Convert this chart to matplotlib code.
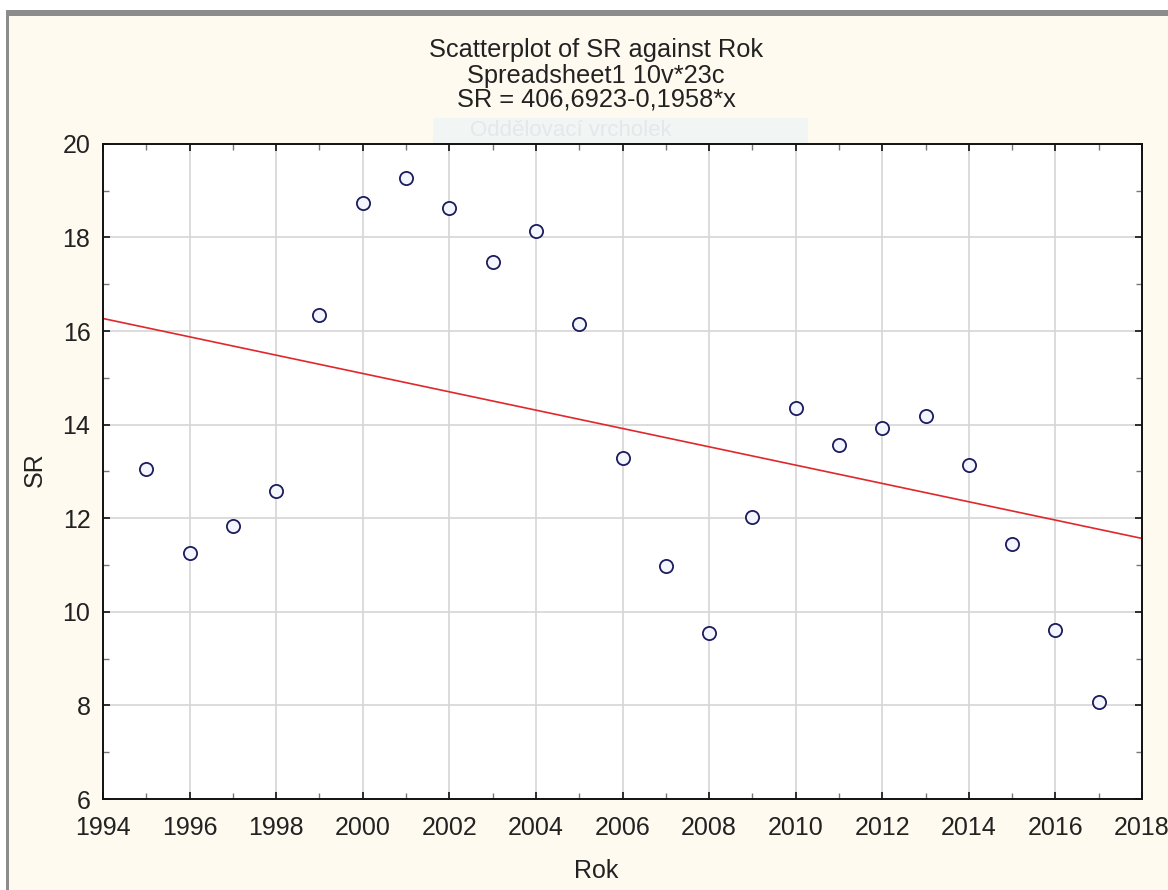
import numpy as np
import matplotlib.pyplot as plt
from matplotlib.patches import Rectangle
from matplotlib.ticker import MultipleLocator

plt.rcParams['font.family'] = ['Liberation Sans', 'DejaVu Sans']

# SR by year (Rok)
rok = [1995, 1996, 1997, 1998, 1999, 2000, 2001, 2002, 2003, 2004, 2005, 2006,
       2007, 2008, 2009, 2010, 2011, 2012, 2013, 2014, 2015, 2016, 2017]
sr = [13.06, 11.26, 11.84, 12.59, 16.34, 18.74, 19.27, 18.63, 17.47, 18.13, 16.15, 13.29,
      10.98, 9.55, 12.02, 14.36, 13.56, 13.93, 14.18, 13.13, 11.45, 9.62, 8.08]

# regression line from the fitted equation
intercept = 406.6923
slope = -0.1958

W, H = 1168, 890
fig = plt.figure(figsize=(W / 100, H / 100), dpi=100, facecolor='white')

# window panel with grey frame
fig.patches.append(Rectangle((9 / W, 0), 1, (H - 16) / H, transform=fig.transFigure,
                             facecolor='#fefaf0', edgecolor='none', zorder=-10))
fig.patches.append(Rectangle((6 / W, (H - 16) / H), 1, 6 / H, transform=fig.transFigure,
                             facecolor='#8c8c8c', edgecolor='none', zorder=-9))
fig.patches.append(Rectangle((6 / W, 0), 3 / W, (H - 10) / H, transform=fig.transFigure,
                             facecolor='#8c8c8c', edgecolor='none', zorder=-9))

# faded tooltip left behind the title
fig.patches.append(Rectangle((433 / W, 1 - 146 / H), 375 / W, 28 / H, transform=fig.transFigure,
                             facecolor='#f1f5f4', edgecolor='none', zorder=-8))
fig.text(470 / W, 1 - 131 / H, 'Oddělovací vrcholek', fontsize=16, color='#e4e8eb',
         va='center', ha='left')

ax = fig.add_axes([103 / W, 1 - 799 / H, (1142 - 103) / W, (799 - 143.8) / H])
ax.set_facecolor('white')

ax.grid(True, which='major', color='#d6d6d6', lw=1.2)
ax.set_axisbelow(True)

x_line = np.array([1994, 2018])
ax.plot(x_line, intercept + slope * x_line, color='#e0282c', lw=1.2, zorder=2)
ax.plot(rok, sr, 'o', ms=9.5, mfc='#f4f6ff', mec='#1c1c5c', mew=1.3, zorder=3)

ax.set_xlim(1994, 2018)
ax.set_ylim(6, 20)
ax.xaxis.set_major_locator(MultipleLocator(2))
ax.xaxis.set_minor_locator(MultipleLocator(1))
ax.yaxis.set_major_locator(MultipleLocator(2))
ax.yaxis.set_minor_locator(MultipleLocator(1))

ax.tick_params(which='both', direction='in', top=True, right=True, labelsize=18,
               labelcolor='#222222')
ax.tick_params(which='major', length=5, width=1.2, color='#111111')
ax.tick_params(which='minor', length=4, width=1, color='#777777')
ax.tick_params(axis='x', pad=12)
ax.tick_params(axis='y', pad=9)

for s in ax.spines.values():
    s.set_linewidth(1.4)
    s.set_color('#111111')

fig.text(596 / W, 1 - 50 / H, 'Scatterplot of SR against Rok', fontsize=18.3,
         ha='center', va='center', color='#222222')
fig.text(596 / W, 1 - 76 / H, 'Spreadsheet1 10v*23c', fontsize=18.3,
         ha='center', va='center', color='#222222')
fig.text(596 / W, 1 - 100 / H, 'SR = 406,6923-0,1958*x', fontsize=18.3,
         ha='center', va='center', color='#222222')

fig.text(596 / W, 1 - 871 / H, 'Rok', fontsize=18, ha='center', va='center', color='#222222')
fig.text(35 / W, 1 - 470 / H, 'SR', fontsize=18, ha='center', va='center',
         rotation=90, color='#222222')

plt.savefig('out.png', dpi=100, facecolor=fig.get_facecolor())
